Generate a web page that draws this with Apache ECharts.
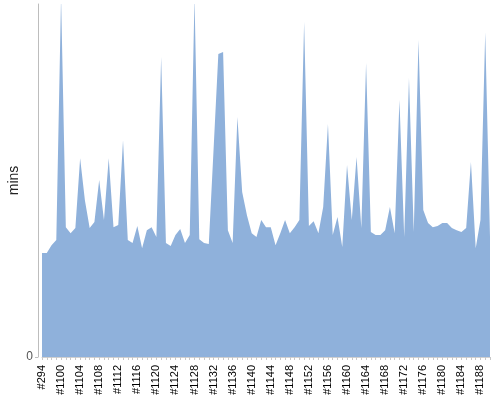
<!DOCTYPE html>
<html>
<head>
<meta charset="utf-8">
<script src="https://cdn.jsdelivr.net/npm/echarts@6/dist/echarts.min.js"></script>
<style>
  html, body { margin: 0; padding: 0; background: #fff; }
  #chart { width: 500px; height: 400px; }
</style>
</head>
<body>
<div id="chart"></div>
<script>
// build ids: #294 first, then #1097 .. #1190
const builds = ['#294'];
for (let n = 1097; n <= 1190; n++) builds.push('#' + n);

// minutes per build
const minutes = [
  34.7, 34.7, 37.3, 39.0, 120.0, 43.3, 41.3, 43.0, 66.3, 52.3,
  43.0, 45.0, 59.0, 45.7, 66.3, 43.3, 44.0, 72.3, 39.0, 38.0,
  43.7, 36.3, 42.3, 43.3, 40.0, 100.0, 38.0, 37.0, 40.7, 42.7,
  38.0, 40.7, 120.0, 39.3, 38.0, 37.7, 69.3, 101.0, 101.7, 42.3,
  38.0, 80.0, 55.0, 47.3, 41.3, 40.0, 45.7, 43.3, 43.3, 37.3,
  41.3, 45.7, 41.3, 43.3, 45.7, 111.7, 43.7, 45.3, 41.3, 50.0,
  77.7, 40.7, 46.7, 36.7, 64.0, 45.7, 66.7, 43.0, 98.0, 41.7,
  40.7, 40.7, 42.3, 50.0, 41.3, 85.7, 40.0, 93.0, 41.7, 105.7,
  49.0, 44.7, 43.3, 43.7, 44.7, 44.7, 43.0, 42.3, 41.7, 43.0,
  65.0, 36.3, 45.7, 108.3, 40.0
];

const yMax = 117.7;

const chart = echarts.init(document.getElementById('chart'));
chart.setOption({
  animation: false,
  textStyle: {fontFamily: 'Liberation Sans'},
  grid: {left: 42, right: 10, top: 4, bottom: 43, outerBoundsMode: 'none'},
  xAxis: {
    type: 'category',
    data: builds,
    boundaryGap: false,
    offset: 4,
    axisLine: {lineStyle: {color: '#d0d0d0'}},
    axisTick: {interval: 0, length: 3, lineStyle: {color: '#c8c8c8'}},
    axisLabel: {interval: 3, rotate: 90, fontSize: 11, color: '#000', margin: 4}
  },
  yAxis: {
    type: 'value',
    min: 0,
    max: yMax,
    interval: yMax,
    offset: 4,
    name: 'mins',
    nameLocation: 'middle',
    nameGap: 17,
    nameMoveOverlap: false,
    nameTextStyle: {fontSize: 14, color: '#222'},
    splitLine: {show: false},
    axisLine: {show: true, lineStyle: {color: '#bdbdbd'}},
    axisTick: {show: true, length: 3, lineStyle: {color: '#bdbdbd'}},
    axisLabel: {showMaxLabel: false, fontSize: 12, color: '#555', margin: 5}
  },
  series: [{
    type: 'line',
    data: minutes,
    symbol: 'none',
    lineStyle: {width: 0},
    areaStyle: {color: '#8fb1db', opacity: 1}
  }]
});
</script>
</body>
</html>
